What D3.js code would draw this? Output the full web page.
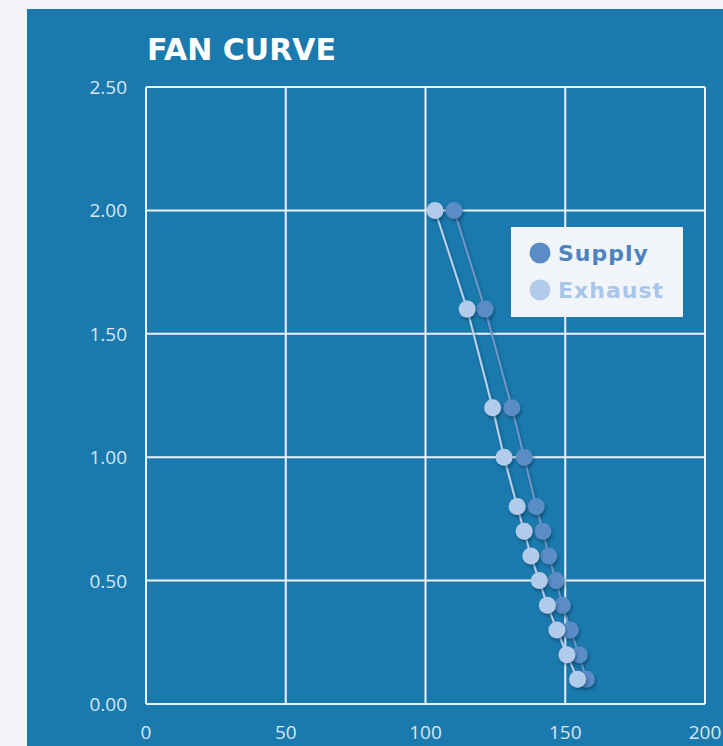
<!DOCTYPE html>
<html>
<head>
<meta charset="utf-8">
<script src="https://cdn.jsdelivr.net/npm/d3@7"></script>
<style>
  body { margin: 0; background: #f3f4f7; }
  svg { display: block; }
</style>
</head>
<body>
<svg id="chart" width="723" height="746"></svg>
<script>
// pressure levels (y) shared by both series
var pressure = [2.0, 1.6, 1.2, 1.0, 0.8, 0.7, 0.6, 0.5, 0.4, 0.3, 0.2, 0.1];
// airflow (x) per series
var supplyFlow = [110.2, 121.3, 130.9, 135.3, 139.6, 142.0, 144.1, 146.7, 149.0, 151.8, 155.0, 157.5];
var exhaustFlow = [103.4, 114.9, 124.0, 128.1, 132.8, 135.3, 137.7, 140.7, 143.6, 147.0, 150.6, 154.4];
var xTicks = [0, 50, 100, 150, 200];
var yTicks = [0, 0.5, 1.0, 1.5, 2.0, 2.5];
var seriesNames = ["Supply", "Exhaust"];

var svg = d3.select("#chart");

// blue panel
svg.append("rect")
  .attr("x", 27).attr("y", 9)
  .attr("width", 696).attr("height", 737)
  .attr("fill", "#1a7aad");

var defs = svg.append("defs");
var f = defs.append("filter").attr("id", "shadow")
  .attr("x", "-50%").attr("y", "-50%").attr("width", "200%").attr("height", "200%");
f.append("feDropShadow")
  .attr("dx", 1.5).attr("dy", 2.5).attr("stdDeviation", 1.8)
  .attr("flood-color", "#0a2a45").attr("flood-opacity", 0.45);

var x = d3.scaleLinear().domain([0, 200]).range([146, 705]);
var y = d3.scaleLinear().domain([0, 2.5]).range([704, 87]);

// grid
svg.append("g").selectAll("line.v").data(xTicks).enter().append("line")
  .attr("x1", d => x(d)).attr("x2", d => x(d))
  .attr("y1", y(2.5)).attr("y2", y(0))
  .attr("stroke", "#e8f3fb").attr("stroke-width", 2);
svg.append("g").selectAll("line.h").data(yTicks).enter().append("line")
  .attr("x1", x(0)).attr("x2", x(200))
  .attr("y1", d => y(d)).attr("y2", d => y(d))
  .attr("stroke", "#e8f3fb").attr("stroke-width", 2);

// tick labels
svg.append("g").selectAll("text").data(yTicks).enter().append("text")
  .attr("x", 127).attr("y", d => y(d) + 7)
  .attr("text-anchor", "end")
  .attr("fill", "#d8e6f1")
  .style("font", "19px 'Open Sans', sans-serif")
  .text(d => d3.format(".2f")(d));
svg.append("g").selectAll("text").data(xTicks).enter().append("text")
  .attr("x", d => x(d)).attr("y", 739)
  .attr("text-anchor", "middle")
  .attr("fill", "#d8e6f1")
  .style("font", "19px 'Open Sans', sans-serif")
  .text(d => d);

// title
svg.append("text")
  .attr("x", 147).attr("y", 60)
  .attr("fill", "#ffffff")
  .style("font", "bold 30px 'DejaVu Sans', sans-serif")
  .text("FAN CURVE");

var colors = { Supply: "#5a8cc6", Exhaust: "#b2cbea" };
var lineColors = { Supply: "#6c98c9", Exhaust: "#bcd2ec" };
var series = [
  { name: "Supply", values: supplyFlow },
  { name: "Exhaust", values: exhaustFlow }
];

var line = d3.line()
  .x(d => x(d[0]))
  .y(d => y(d[1]));

series.forEach(function(s) {
  var pts = s.values.map((v, i) => [v, pressure[i]]);
  var g = svg.append("g");
  g.append("path")
    .attr("d", line(pts))
    .attr("fill", "none")
    .attr("stroke", lineColors[s.name])
    .attr("stroke-width", 2)
    .attr("filter", "url(#shadow)");
  g.selectAll("circle").data(pts).enter().append("circle")
    .attr("cx", d => x(d[0])).attr("cy", d => y(d[1]))
    .attr("r", 8.5)
    .attr("fill", colors[s.name])
    .attr("filter", "url(#shadow)");
});

// legend
var lg = svg.append("g");
lg.append("rect")
  .attr("x", 511).attr("y", 227)
  .attr("width", 172).attr("height", 90)
  .attr("fill", "#f1f5f9");
seriesNames.forEach(function(n, i) {
  lg.append("circle")
    .attr("cx", 540).attr("cy", 253 + i * 37)
    .attr("r", 10.5)
    .attr("fill", colors[n]);
  lg.append("text")
    .attr("x", 558).attr("y", 261 + i * 37)
    .attr("fill", n == "Supply" ? "#4e83c0" : "#a9c5e8")
    .style("font", "bold 22px 'DejaVu Sans', sans-serif")
    .style("letter-spacing", "1px")
    .text(n);
});
</script>
</body>
</html>
